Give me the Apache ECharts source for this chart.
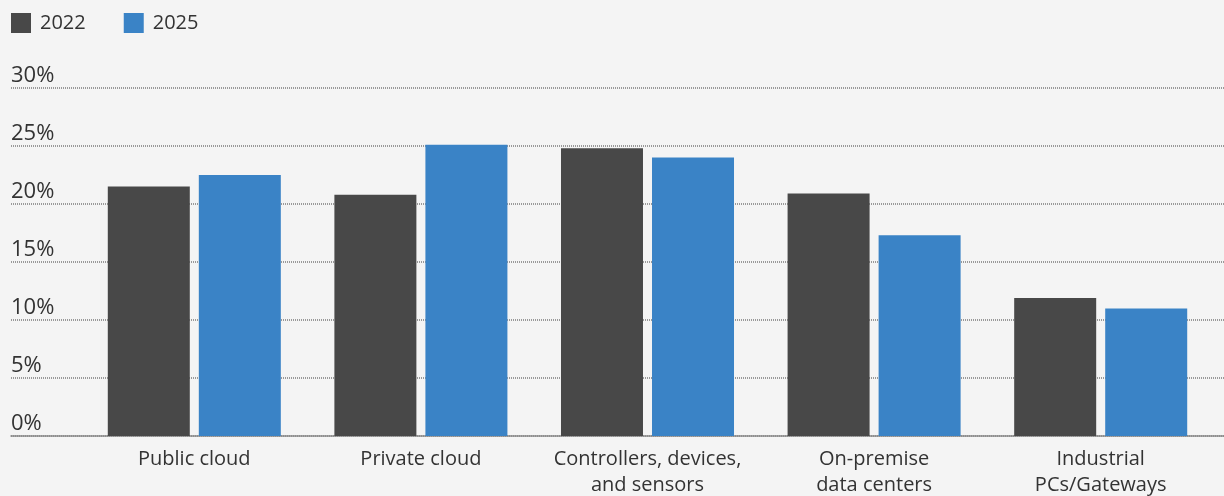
<!DOCTYPE html>
<html><head><meta charset="utf-8">
<script src="https://cdn.jsdelivr.net/npm/echarts@6/dist/echarts.min.js"></script>
<style>html,body{margin:0;padding:0;background:#f4f4f4;}#c{width:1224px;height:496px;}</style>
</head><body><div id="c"></div>
<script>
const categories = ['Public cloud', 'Private cloud', 'Controllers, devices,\nand sensors', 'On-premise\ndata centers', 'Industrial\nPCs/Gateways'];
const seriesNames = ['2022', '2025'];
const values2022 = [21.5, 20.8, 24.8, 20.9, 11.9];
const values2025 = [22.5, 25.1, 24.0, 17.3, 11.0];
const yTicks = [0, 5, 10, 15, 20, 25, 30];

const FONT = '"Open Sans", sans-serif';
const chart = echarts.init(document.getElementById('c'));
chart.setOption({
  backgroundColor: '#f4f4f4',
  animation: false,
  textStyle: { fontFamily: FONT },
  legend: {
    left: 11, top: 13, padding: 0, itemWidth: 20, itemHeight: 20, itemGap: 38,
    icon: 'rect',
    data: seriesNames,
    textStyle: { fontSize: 20, lineHeight: 20, color: '#333', fontFamily: FONT, padding: [0, 0, 0, 4] }
  },
  grid: [
    { left: 11, right: 0, top: 88, bottom: 60, outerBoundsMode: 'none' },
    { left: 81, right: 10, top: 88, bottom: 60, outerBoundsMode: 'none' }
  ],
  xAxis: [
    { gridIndex: 0, type: 'value', min: 0, max: 1,
      axisLine: { show: true, onZero: false, lineStyle: { color: '#8a8a8a', width: 1.5 } },
      axisTick: { show: false }, axisLabel: { show: false }, splitLine: { show: false } },
    { gridIndex: 1, type: 'category', data: categories,
      axisLine: { show: false }, axisTick: { show: false },
      axisLabel: { fontSize: 20, color: '#333', fontFamily: FONT, lineHeight: 26, margin: 10, interval: 0 } }
  ],
  yAxis: [
    { gridIndex: 0, type: 'value', min: yTicks[0], max: yTicks[yTicks.length - 1], interval: 5,
      axisLine: { show: false }, axisTick: { show: false },
      axisLabel: { inside: true, margin: 0, fontSize: 22, color: '#333', fontFamily: FONT,
        verticalAlign: 'bottom', padding: [0, 0, 1, 0], formatter: v => v + '%' },
      splitLine: { show: true, lineStyle: { color: '#999', width: 2, type: [1, 1] } } },
    { gridIndex: 1, type: 'value', min: yTicks[0], max: yTicks[yTicks.length - 1], show: false,
      splitLine: { show: false } }
  ],
  series: [
    { name: seriesNames[0], type: 'bar', xAxisIndex: 1, yAxisIndex: 1, data: values2022,
      barWidth: 82, barGap: '11%', itemStyle: { color: '#484848' } },
    { name: seriesNames[1], type: 'bar', xAxisIndex: 1, yAxisIndex: 1, data: values2025,
      barWidth: 82, barGap: '11%', itemStyle: { color: '#3a83c6' } }
  ]
});
</script>
</body></html>
